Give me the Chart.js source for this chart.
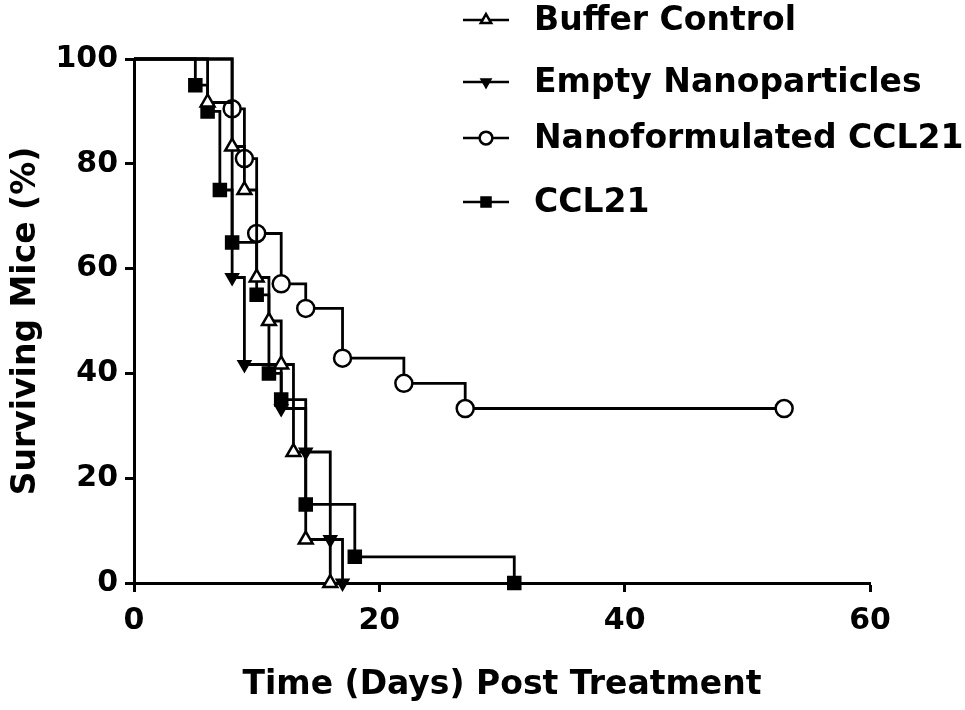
<!DOCTYPE html>
<html>
<head>
<meta charset="utf-8">
<title>Surviving Mice</title>
<script src="https://cdn.jsdelivr.net/npm/chart.js@4.4.1/dist/chart.umd.min.js"></script>
<style>
html, body { margin: 0; padding: 0; background: #fff; }
#wrap { width: 965px; height: 710px; position: relative; }
</style>
</head>
<body>
<div id="wrap"><canvas id="survival"></canvas></div>
<script>
// Kaplan-Meier steps (day, % surviving)
const buffer_days = [0, 6, 8, 9, 10, 11, 12, 13, 14, 16];
const buffer_surv = [100, 91.7, 83.3, 75, 58.3, 50, 41.7, 25, 8.3, 0];
const empty_days = [0, 8, 9, 12, 14, 16, 17];
const empty_surv = [100, 58.3, 41.7, 33.3, 25, 8.3, 0];
const nano_days = [0, 8, 9, 10, 12, 14, 17, 22, 27, 53];
const nano_surv = [100, 90.5, 81, 66.7, 57.1, 52.4, 42.9, 38.1, 33.3, 33.3];
const ccl21_days = [0, 5, 6, 7, 8, 10, 11, 12, 14, 18, 31];
const ccl21_surv = [100, 95, 90, 75, 65, 55, 40, 35, 15, 5, 0];

const series_names = ['Buffer Control', 'Empty Nanoparticles', 'Nanoformulated CCL21', 'CCL21'];
const x_ticks = [0, 20, 40, 60];
const y_ticks = [0, 20, 40, 60, 80, 100];

const FONT = 'DejaVu Sans';

function to_points(days, surv){
    return days.map(function(d, i){ return {x: d, y: surv[i]}; });
}

// marker look for each series
const markers = [
    {style: 'triangle', rotation: 0, fill: '#fff', radius: 8},
    {style: 'triangle', rotation: 180, fill: '#000', radius: 6.5},
    {style: 'circle', rotation: 0, fill: '#fff', radius: 8.5},
    {style: 'rect', rotation: 0, fill: '#000', radius: 8.5}
];

function draw_marker(ctx, m, x, y, r){
    ctx.save();
    ctx.translate(x, y);
    ctx.rotate(m.rotation * Math.PI / 180);
    ctx.beginPath();
    if (m.style === 'circle') {
        ctx.arc(0, 0, r, 0, Math.PI * 2);
    } else if (m.style === 'rect') {
        const s = r * Math.SQRT1_2;
        ctx.rect(-s, -s, 2 * s, 2 * s);
    } else {
        const h = r * Math.sqrt(3) / 2;
        ctx.moveTo(0, -r);
        ctx.lineTo(h, r / 2);
        ctx.lineTo(-h, r / 2);
        ctx.closePath();
    }
    ctx.fillStyle = m.fill;
    ctx.fill();
    ctx.lineWidth = 2.5;
    ctx.strokeStyle = '#000';
    ctx.stroke();
    ctx.restore();
}

const side_legend = {
    id: 'side_legend',
    afterDraw: function(chart){
        const ctx = chart.ctx;
        const rows = [20, 82, 138, 202];
        ctx.save();
        ctx.font = 'bold 33px "' + FONT + '"';
        ctx.textBaseline = 'alphabetic';
        ctx.fillStyle = '#000';
        series_names.forEach(function(name, i){
            const y = rows[i];
            ctx.beginPath();
            ctx.moveTo(463, y);
            ctx.lineTo(509, y);
            ctx.lineWidth = 2.5;
            ctx.strokeStyle = '#000';
            ctx.stroke();
            draw_marker(ctx, markers[i], 486, y, markers[i].radius * 0.75);
            ctx.fillStyle = '#000';
            ctx.fillText(name, 534, y + 10);
        });
        ctx.restore();
    }
};

function render_survival(){
    const ctx = document.getElementById('survival').getContext('2d');
    const all_data = [
        to_points(buffer_days, buffer_surv),
        to_points(empty_days, empty_surv),
        to_points(nano_days, nano_surv),
        to_points(ccl21_days, ccl21_surv)
    ];
    const datasets = all_data.map(function(pts, i){
        const m = markers[i];
        return {
            label: series_names[i],
            data: pts,
            stepped: true,
            borderColor: '#000',
            borderWidth: 2.8,
            pointStyle: m.style,
            pointRotation: m.rotation,
            pointBackgroundColor: m.fill,
            pointBorderColor: '#000',
            pointBorderWidth: 2.5,
            pointRadius: function(c){ return c.dataIndex === 0 ? 0 : m.radius; },
            pointHoverRadius: function(c){ return c.dataIndex === 0 ? 0 : m.radius; },
            clip: false,
            fill: false
        };
    });

    new Chart(ctx, {
        type: 'line',
        data: {datasets: datasets},
        plugins: [side_legend],
        options: {
            responsive: true,
            maintainAspectRatio: false,
            animation: false,
            layout: {padding: {top: 59, right: 95, left: 0, bottom: 0}},
            plugins: {legend: {display: false}, tooltip: {enabled: false}},
            scales: {
                x: {
                    type: 'linear',
                    min: 0,
                    max: 60,
                    afterBuildTicks: function(s){ s.ticks = x_ticks.map(function(v){ return {value: v}; }); },
                    afterFit: function(s){ s.height = 127; },
                    border: {display: true, color: '#000', width: 3},
                    grid: {drawOnChartArea: false, drawTicks: true, tickLength: 9, tickWidth: 3, color: '#000'},
                    ticks: {color: '#000', padding: 11, maxRotation: 0, font: {family: FONT, weight: 'bold', size: 30}},
                    title: {display: true, text: 'Time (Days) Post Treatment', color: '#000',
                            padding: {top: 0, bottom: 5}, font: {family: FONT, weight: 'bold', size: 33}}
                },
                y: {
                    min: 0,
                    max: 100,
                    afterBuildTicks: function(s){ s.ticks = y_ticks.map(function(v){ return {value: v}; }); },
                    afterFit: function(s){ s.width = 134; },
                    border: {display: true, color: '#000', width: 3},
                    grid: {drawOnChartArea: false, drawTicks: true, tickLength: 9, tickWidth: 3, color: '#000'},
                    ticks: {color: '#000', padding: 7, font: {family: FONT, weight: 'bold', size: 30}},
                    title: {display: true, text: 'Surviving Mice (%)', color: '#000',
                            padding: {top: 7, bottom: 0}, font: {family: FONT, weight: 'bold', size: 33}}
                }
            }
        }
    });
}

window.onload = function(){
    render_survival();
};
</script>
</body>
</html>
